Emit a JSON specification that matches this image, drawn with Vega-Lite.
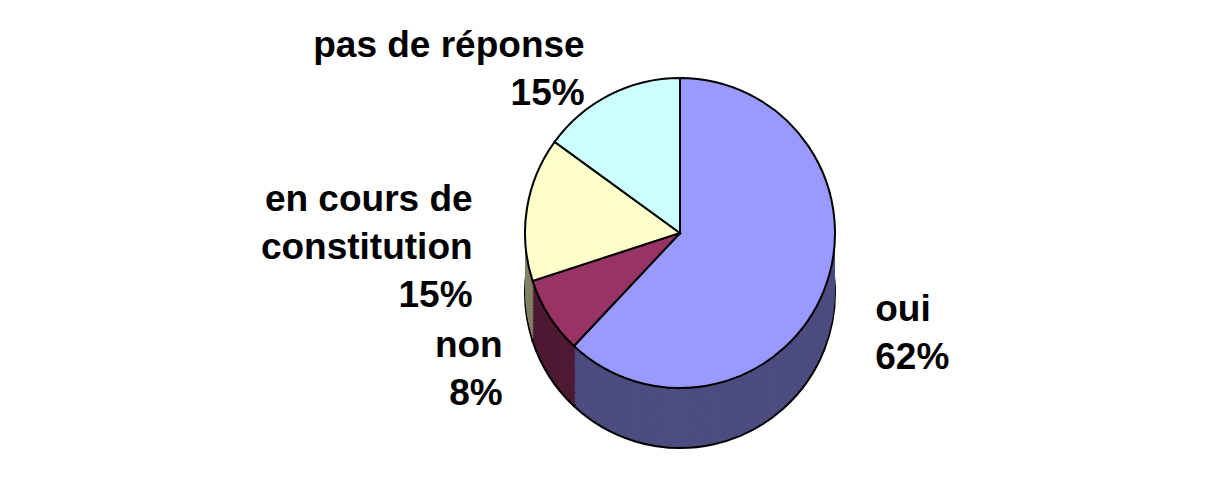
{
  "$schema": "https://vega.github.io/schema/vega-lite/v6.json",
  "autosize": {"type": "fit", "contains": "padding"},
  "width": 1210,
  "height": 484,
  "padding": {"left": 150, "right": 0, "top": 0, "bottom": 0},
  "background": "white",
  "config": {"view": {"stroke": null}},
  "data": {"values": [
    {"cat": "oui", "value": 62, "ordre": 1, "label": "oui\n62%"},
    {"cat": "non", "value": 8, "ordre": 2, "label": "non\n8%"},
    {"cat": "en cours de constitution", "value": 15, "ordre": 3, "label": "en cours de\nconstitution\n15%"},
    {"cat": "pas de réponse", "value": 15, "ordre": 4, "label": "pas de réponse\n15%"}
  ]},
  "encoding": {
    "theta": {"field": "value", "type": "quantitative", "stack": true},
    "order": {"field": "ordre", "type": "quantitative"}
  },
  "layer": [
    {"mark": {"type": "arc", "radius": 155, "yOffset": 51, "stroke": "black", "strokeWidth": 2}, "encoding": {"fill": {"field": "cat", "type": "nominal", "legend": null, "scale": {"domain": ["oui", "non", "en cours de constitution", "pas de réponse"], "range": ["#4C4C80", "#4D1933", "#808066", "#668080"]}}}},
    {"mark": {"type": "arc", "radius": 155, "yOffset": 48}, "encoding": {"fill": {"field": "cat", "type": "nominal", "legend": null}}},
    {"mark": {"type": "arc", "radius": 155, "yOffset": 45}, "encoding": {"fill": {"field": "cat", "type": "nominal", "legend": null}}},
    {"mark": {"type": "arc", "radius": 155, "yOffset": 42}, "encoding": {"fill": {"field": "cat", "type": "nominal", "legend": null}}},
    {"mark": {"type": "arc", "radius": 155, "yOffset": 39}, "encoding": {"fill": {"field": "cat", "type": "nominal", "legend": null}}},
    {"mark": {"type": "arc", "radius": 155, "yOffset": 36}, "encoding": {"fill": {"field": "cat", "type": "nominal", "legend": null}}},
    {"mark": {"type": "arc", "radius": 155, "yOffset": 33}, "encoding": {"fill": {"field": "cat", "type": "nominal", "legend": null}}},
    {"mark": {"type": "arc", "radius": 155, "yOffset": 30}, "encoding": {"fill": {"field": "cat", "type": "nominal", "legend": null}}},
    {"mark": {"type": "arc", "radius": 155, "yOffset": 27}, "encoding": {"fill": {"field": "cat", "type": "nominal", "legend": null}}},
    {"mark": {"type": "arc", "radius": 155, "yOffset": 24}, "encoding": {"fill": {"field": "cat", "type": "nominal", "legend": null}}},
    {"mark": {"type": "arc", "radius": 155, "yOffset": 21}, "encoding": {"fill": {"field": "cat", "type": "nominal", "legend": null}}},
    {"mark": {"type": "arc", "radius": 155, "yOffset": 18}, "encoding": {"fill": {"field": "cat", "type": "nominal", "legend": null}}},
    {"mark": {"type": "arc", "radius": 155, "yOffset": 15}, "encoding": {"fill": {"field": "cat", "type": "nominal", "legend": null}}},
    {"mark": {"type": "arc", "radius": 155, "yOffset": 12}, "encoding": {"fill": {"field": "cat", "type": "nominal", "legend": null}}},
    {"mark": {"type": "arc", "radius": 155, "yOffset": 9}, "encoding": {"fill": {"field": "cat", "type": "nominal", "legend": null}}},
    {"mark": {"type": "arc", "radius": 155, "yOffset": 6}, "encoding": {"fill": {"field": "cat", "type": "nominal", "legend": null}}},
    {"mark": {"type": "arc", "radius": 155, "yOffset": 3}, "encoding": {"fill": {"field": "cat", "type": "nominal", "legend": null}}},
    {"mark": {"type": "arc", "radius": 155, "yOffset": 0}, "encoding": {"fill": {"field": "cat", "type": "nominal", "legend": null}}},
    {"mark": {"type": "arc", "radius": 155, "yOffset": -3}, "encoding": {"fill": {"field": "cat", "type": "nominal", "legend": null}}},
    {"mark": {"type": "arc", "radius": 155, "yOffset": -6}, "encoding": {"fill": {"field": "cat", "type": "nominal", "legend": null}}},
    {"mark": {"type": "arc", "radius": 155, "yOffset": -9, "stroke": "black", "strokeWidth": 2, "opacity": 1}, "encoding": {"color": {"field": "cat", "type": "nominal", "legend": null, "scale": {"domain": ["oui", "non", "en cours de constitution", "pas de réponse"], "range": ["#9999FF", "#993366", "#FFFFCC", "#CCFFFF"]}}}},
    {"mark": {"type": "text", "radius": 210, "yOffset": -9, "align": "left", "baseline": "middle", "lineBreak": "\n", "font": "Liberation Sans", "fontWeight": "bold", "fontSize": 37, "lineHeight": 48, "color": "black"}, "encoding": {"text": {"condition": {"test": "datum.cat === 'oui'", "field": "label"}, "value": ""}}},
    {"mark": {"type": "text", "radius": 210, "yOffset": -9, "align": "right", "baseline": "middle", "lineBreak": "\n", "font": "Liberation Sans", "fontWeight": "bold", "fontSize": 37, "lineHeight": 48, "color": "black"}, "encoding": {"text": {"condition": {"test": "datum.cat !== 'oui'", "field": "label"}, "value": ""}}}
  ]
}
